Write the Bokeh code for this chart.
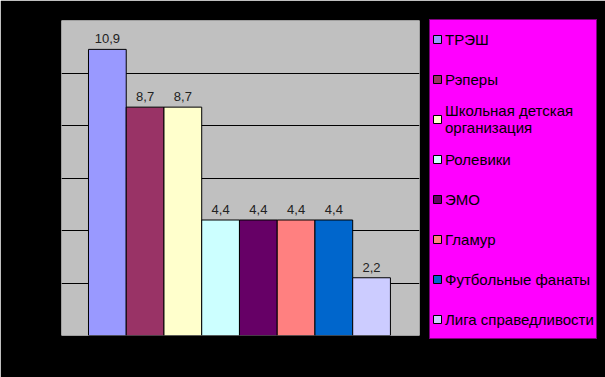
from bokeh.plotting import figure
from bokeh.models import ColumnDataSource, Range1d, Legend, LegendItem, FixedTicker, Grid
from bokeh.core.properties import value
from bokeh.embed import file_html
from bokeh.resources import INLINE

categories = ["ТРЭШ", "Рэперы", "Школьная детская\nорганизация", "Ролевики",
              "ЭМО", "Гламур", "Футбольные фанаты", "Лига справедливости"]
values = [10.9, 8.7, 8.7, 4.4, 4.4, 4.4, 4.4, 2.2]
colors = ["#9999FF", "#993366", "#FFFFCC", "#CCFFFF",
          "#660066", "#FF8080", "#0066CC", "#CCCCFF"]
y_ticks = [2, 4, 6, 8, 10]
y_max = 12

idx = list(range(len(values)))
labels = [f"{v:.1f}".replace(".", ",") for v in values]
x_start, x_end = -1.215, 8.27

p = figure(frame_width=358, frame_height=315, output_backend="svg", toolbar_location=None,
           x_range=Range1d(x_start, x_end), y_range=Range1d(0, y_max),
           min_border_left=61, min_border_right=186, min_border_top=20, min_border_bottom=42)
p.background_fill_color = "#C0C0C0"
p.border_fill_color = "#000000"
p.outline_line_color = None
p.xaxis.visible = False
p.yaxis.visible = False
p.xgrid.visible = False
p.ygrid.ticker = FixedTicker(ticks=y_ticks)
p.ygrid.grid_line_color = "#000000"
p.ygrid.grid_line_width = 1

# top and right edges of the plot area (grey), as in the reference
p.add_layout(Grid(dimension=1, ticker=FixedTicker(ticks=[y_max]),
                  grid_line_color="#808080", grid_line_width=2))
p.add_layout(Grid(dimension=0, ticker=FixedTicker(ticks=[x_end]),
                  grid_line_color="#808080", grid_line_width=2))

renderers = []
for i in idx:
    src = ColumnDataSource(dict(x=[idx[i]], top=[values[i]]))
    r = p.vbar(x="x", top="top", width=1, source=src, fill_color=colors[i],
               line_color="#000000", line_width=1)
    renderers.append(r)

lsrc = ColumnDataSource(dict(x=idx, y=values, t=labels))
p.text(x="x", y="y", text="t", source=lsrc, y_offset=-6, text_align="center",
       text_baseline="bottom", text_font=value("Liberation Sans"),
       text_font_size="13px", text_color="#222222")

items = [LegendItem(label=categories[i], renderers=[renderers[i]]) for i in idx]
legend = Legend(items=items, location=(10, -4), orientation="vertical",
                background_fill_color="#FF00FF", background_fill_alpha=1,
                border_line_color="#000000", padding=2, margin=0,
                spacing=6, label_height=34, glyph_height=10, glyph_width=10,
                label_standoff=3, label_text_font="Liberation Sans",
                label_text_line_height=1.07,
                label_text_font_size="15px", label_text_color="#000000")
p.add_layout(legend, "right")

open("out.html", "w").write(file_html(p, INLINE))
